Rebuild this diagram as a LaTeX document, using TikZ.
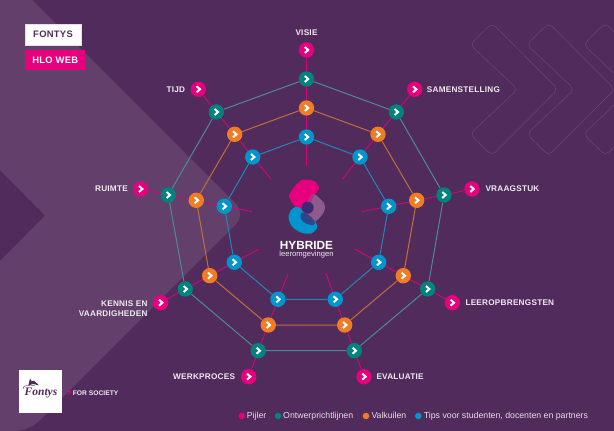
\documentclass[tikz,border=0pt]{standalone}
\usepackage{fontspec}
\setmainfont{Liberation Sans}
\newfontfamily\capsfont[LetterSpace=3]{Liberation Sans}
\newfontfamily\logofont{Liberation Serif}
\definecolor{bgpurple}{HTML}{512B5B}
\definecolor{bandpurple}{HTML}{62406B}
\definecolor{chevronline}{HTML}{684872}
\definecolor{pinkc}{HTML}{E6007E}
\definecolor{tealc}{HTML}{00837F}
\definecolor{orangec}{HTML}{F07D24}
\definecolor{bluec}{HTML}{0095CC}
\definecolor{tealline}{HTML}{4E8A93}
\definecolor{orangeline}{HTML}{C06E3E}
\definecolor{blueline}{HTML}{2088B8}
\definecolor{mauvec}{HTML}{8E5B8F}
\definecolor{corec}{HTML}{3D2A72}
\tikzset{
    stop/.style={circle,fill=#1,minimum size=15.4pt,inner sep=0pt,
        path picture={\draw[white,line width=2pt] (-1.7pt,3pt) -- (1.7pt,0pt) -- (-1.7pt,-3pt);}},
    dot/.style={circle,fill=#1,minimum size=6.6pt,inner sep=0pt},
    pillar/.style={font=\capsfont\bfseries\fontsize{8.2}{10.6}\selectfont,text=white!90!bgpurple,inner sep=0pt},
    legend/.style={font=\fontsize{8.75}{10}\selectfont,text=white!85!bgpurple,inner sep=0pt,anchor=west,text height=6.5pt,text depth=1.8pt},
    spoke/.style={draw=pinkc!85!bgpurple,line width=.9pt},
    tealring/.style={draw=tealline,line width=1pt},
    orangering/.style={draw=orangeline,line width=1pt},
    bluering/.style={draw=blueline,line width=1pt},
    chevron/.style={draw=chevronline,line width=.5pt,rounded corners=5pt}
}
\begin{document}
\begin{tikzpicture}[x=1pt,y=-1pt]
    \useasboundingbox (0,0) rectangle (614,431);
    \fill[bgpurple] (0,0) rectangle (614,431);
    \fill[bandpurple] (32,0) [rounded corners=14pt] -- (246,214) -- (29,431) [sharp corners] -- (0,431) -- (0,261) -- (45,215.5) -- (0,170) -- (0,0) -- cycle;

    \begin{scope}
        \clip (0,0) rectangle (614,431);
        \draw[chevron] (492,23) -- (558,89.3) -- (492,155.6) -- (470,134) -- (517.7,89.3) -- (470,44.6) -- cycle;
        \draw[chevron] (548.7,23) -- (614.7,89.3) -- (548.7,155.6) -- (526.7,134) -- (574.4,89.3) -- (526.7,44.6) -- cycle;
        \draw[chevron] (605.4,23) -- (671.4,89.3) -- (605.4,155.6) -- (583.4,134) -- (631.1,89.3) -- (583.4,44.6) -- cycle;
    \end{scope}

    % pillars
    \node[stop=pinkc] (p1) at (306.5,50) {};
    \node[stop=pinkc] (p2) at (414.7,89.3) {};
    \node[stop=pinkc] (p3) at (472,189) {};
    \node[stop=pinkc] (p4) at (452.3,302.7) {};
    \node[stop=pinkc] (p5) at (364,376.7) {};
    \node[stop=pinkc] (p6) at (248.7,376.7) {};
    \node[stop=pinkc] (p7) at (160.7,302.7) {};
    \node[stop=pinkc] (p8) at (140.7,189) {};
    \node[stop=pinkc] (p9) at (198.3,89.3) {};

    % outer ring
    \node[stop=tealc] (t1) at (306.5,79) {};
    \node[stop=tealc] (t2) at (396.3,112) {};
    \node[stop=tealc] (t3) at (444,195) {};
    \node[stop=tealc] (t4) at (427.7,289) {};
    \node[stop=tealc] (t5) at (354.3,350.7) {};
    \node[stop=tealc] (t6) at (258.3,350.7) {};
    \node[stop=tealc] (t7) at (185.3,289) {};
    \node[stop=tealc] (t8) at (168.3,195) {};
    \node[stop=tealc] (t9) at (216.3,112) {};

    % middle ring
    \node[stop=orangec] (o1) at (306.5,108) {};
    \node[stop=orangec] (o2) at (378,134.3) {};
    \node[stop=orangec] (o3) at (416.7,200.3) {};
    \node[stop=orangec] (o4) at (403.3,275.7) {};
    \node[stop=orangec] (o5) at (344.7,325) {};
    \node[stop=orangec] (o6) at (268.3,325) {};
    \node[stop=orangec] (o7) at (209.7,275.7) {};
    \node[stop=orangec] (o8) at (196.3,200.3) {};
    \node[stop=orangec] (o9) at (234.7,134.3) {};

    % inner ring
    \node[stop=bluec] (b1) at (306.5,137) {};
    \node[stop=bluec] (b2) at (360,157) {};
    \node[stop=bluec] (b3) at (388.7,206.3) {};
    \node[stop=bluec] (b4) at (378.7,262.3) {};
    \node[stop=bluec] (b5) at (335.3,299.3) {};
    \node[stop=bluec] (b6) at (278,299.3) {};
    \node[stop=bluec] (b7) at (234.3,262.3) {};
    \node[stop=bluec] (b8) at (224.3,206.3) {};
    \node[stop=bluec] (b9) at (252.7,157) {};

    \coordinate (e1) at (306.5,165.5);
    \coordinate (e2) at (342.3,179.3);
    \coordinate (e3) at (361.3,211.7);
    \coordinate (e4) at (354.7,249);
    \coordinate (e5) at (326,273.3);
    \coordinate (e6) at (288,274);
    \coordinate (e7) at (259,249);
    \coordinate (e8) at (252.3,211.7);
    \coordinate (e9) at (271.3,179.3);

    \draw[spoke] (p1) -- (t1) -- (o1) -- (b1) -- (e1);
    \draw[spoke] (p2) -- (t2) -- (o2) -- (b2) -- (e2);
    \draw[spoke] (p3) -- (t3) -- (o3) -- (b3) -- (e3);
    \draw[spoke] (p4) -- (t4) -- (o4) -- (b4) -- (e4);
    \draw[spoke] (p5) -- (t5) -- (o5) -- (b5) -- (e5);
    \draw[spoke] (p6) -- (t6) -- (o6) -- (b6) -- (e6);
    \draw[spoke] (p7) -- (t7) -- (o7) -- (b7) -- (e7);
    \draw[spoke] (p8) -- (t8) -- (o8) -- (b8) -- (e8);
    \draw[spoke] (p9) -- (t9) -- (o9) -- (b9) -- (e9);

    \draw[tealring] (t1) -- (t2) -- (t3) -- (t4) -- (t5) -- (t6) -- (t7) -- (t8) -- (t9) -- (t1);
    \draw[orangering] (o1) -- (o2) -- (o3) -- (o4) -- (o5) -- (o6) -- (o7) -- (o8) -- (o9) -- (o1);
    \draw[bluering] (b1) -- (b2) -- (b3) -- (b4) -- (b5) -- (b6) -- (b7) -- (b8) -- (b9) -- (b1);

    % pillar labels
    \node[pillar] (visie) at (306.5,33) {VISIE};
    \node[pillar,anchor=west] (samen) at (426.7,89.3) {SAMENSTELLING};
    \node[pillar,anchor=west] (vraag) at (485.3,189) {VRAAGSTUK};
    \node[pillar,anchor=west] (leer) at (465.3,302.7) {LEEROPBRENGSTEN};
    \node[pillar,anchor=west] (eval) at (376.3,377) {EVALUATIE};
    \node[pillar,anchor=east] (werk) at (235.3,377) {WERKPROCES};
    \node[pillar,anchor=east,align=right] (kennis) at (147.7,308.7) {KENNIS EN\\VAARDIGHEDEN};
    \node[pillar,anchor=east] (ruimte) at (128,189) {RUIMTE};
    \node[pillar,anchor=east] (tijd) at (185.3,89.3) {TIJD};

    % centre logo
    \fill[mauvec] plot[smooth cycle] coordinates {(312,193) (324,203.3) (324,211.7) (316,221) (308,222) (304,214) (304,203)};
    \fill[pinkc] plot[smooth cycle] coordinates {(302,180) (314,181) (319,188) (314.5,195) (311,202) (303,212) (294,205) (289,196) (293.5,188)};
    \fill[bluec] plot[smooth cycle] coordinates {(298.3,207) (306,214) (315,221) (317,228) (311,233.5) (301,232.5) (292,226.5) (288.5,217) (292,209)};
    \fill[mauvec,opacity=.5] plot[smooth cycle] coordinates {(313,194) (324,203.3) (324,211.7) (316,221) (310,220) (306,212) (307,202)};
    \fill[corec,opacity=.7] plot[smooth cycle] coordinates {(301,213) (307,213.5) (314.5,221) (313.5,225) (306,223.5) (301,219)};
    \fill[corec] (307.7,207.7) circle (6);
    \node[font=\bfseries\fontsize{11.8}{13}\selectfont,text=white,inner sep=0pt] (hybride) at (306.5,245) {HYBRIDE};
    \node[font=\fontsize{7.6}{8}\selectfont,text=white!90!bgpurple,inner sep=0pt] (leeromg) at (306.5,254.5) {leeromgevingen};

    % boxes
    \node[draw=white!85!bgpurple,fill=white,text=bgpurple,font=\capsfont\bfseries\fontsize{9.4}{10}\selectfont,minimum width=55.4pt,minimum height=20.7pt,inner sep=0pt] (fontys) at (53,34.7) {FONTYS};
    \node[fill=pinkc,text=white,font=\capsfont\bfseries\fontsize{9.4}{10}\selectfont,minimum width=59.7pt,minimum height=20.3pt,inner sep=0pt] (hlo) at (55.2,59.9) {HLO WEB};

    % bottom logo
    \node[fill=white,minimum size=43pt,inner sep=0pt] (logo) at (40.5,391.5) {};
    \node[font=\logofont\bfseries\itshape\fontsize{11.5}{12}\selectfont,text=bgpurple,inner sep=0pt] (logotext) at (41,393.3) {Fontys};
    \fill[bgpurple] (28.3,385.5) -- (30,378.5) -- (31.5,381) -- (34,380.7) -- (39,385.3) -- (33,384) -- cycle;
    \draw[bgpurple,line width=.4pt] (35,385.5) .. controls (28,384.5) and (22,386) .. (23,389);
    \node[font=\bfseries\fontsize{6.7}{8}\selectfont,text=white!90!bgpurple,inner sep=0pt,anchor=west] (society) at (72.7,393.5) {FOR SOCIETY};
    \node[font=\bfseries\fontsize{8}{8}\selectfont,text=pinkc,inner sep=0pt,anchor=east] (socarrow) at (71.8,393.5) {>};

    % legend
    \node[dot=pinkc] (d1) at (241.7,416) {};
    \node[dot=tealc] (d2) at (278,416) {};
    \node[dot=orangec] (d3) at (366,416) {};
    \node[dot=bluec] (d4) at (418.3,416) {};
    \node[legend] (l1) at (246.7,416) {Pijler};
    \node[legend] (l2) at (283,416) {Ontwerprichtlijnen};
    \node[legend] (l3) at (371.3,416) {Valkuilen};
    \node[legend] (l4) at (423.7,416) {Tips voor studenten, docenten en partners};
\end{tikzpicture}
\end{document}
